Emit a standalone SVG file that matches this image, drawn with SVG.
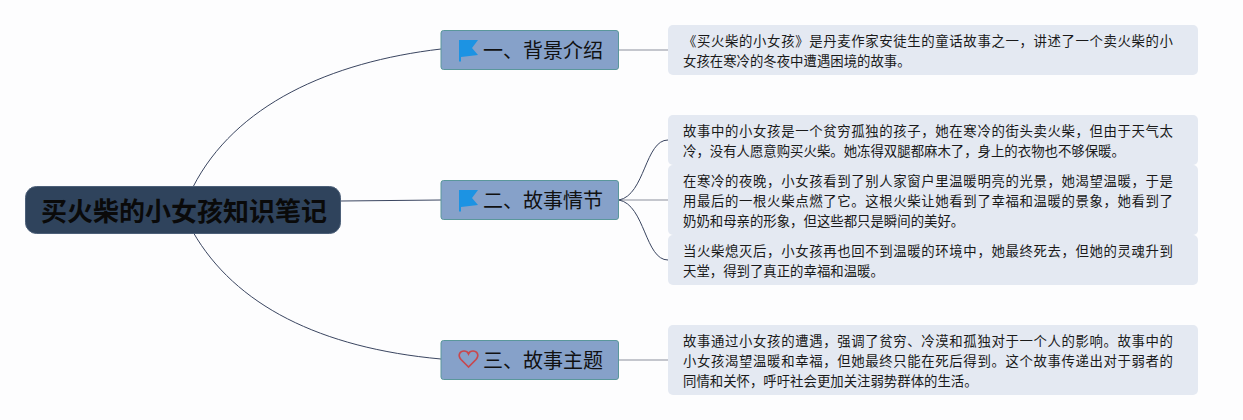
<svg xmlns="http://www.w3.org/2000/svg" width="1243" height="420" viewBox="0 0 1243 420">
<style>
.r{fill:#2f435c;stroke:#4c5f78;stroke-width:1}
.b{fill:#86a1c9;stroke:#5a979b;stroke-width:1}
.n{fill:#e4e9f2}
.c{fill:none;stroke:#3a4560;stroke-width:1}
.g{fill:none;stroke:#8c909c;stroke-width:1.2}
text{font-family:"Noto Sans CJK SC","Noto Sans",sans-serif;fill:#1a1a1a}
.rt{font-size:26px;font-weight:700;fill:#0a0a0a}
.bt{font-size:20px;fill:#111}
.nt{font-size:13.4px}
.flag{fill:#1c93e3}
</style>
<rect width="1243" height="420" fill="#fdfdfe"/>
<g id="connectors">
<path class="c" d="M193 187C235 105 330 62 441 49"/>
<path class="c" d="M341 201L441 200"/>
<path class="c" d="M193 232C235 305 320 348 441 359"/>
<path class="g" d="M619 50H668"/>
<path class="g" d="M619 200H668"/>
<path class="c" d="M619 200C645 195 645 140 668 140"/>
<path class="c" d="M619 200C645 205 645 260 668 260"/>
<path class="g" d="M619 360H668"/>
</g>
<g id="root"><rect class="r" x="25.500" y="186.500" width="315" height="47" rx="11"/><text class="rt" x="184" y="221" text-anchor="middle" textLength="286" lengthAdjust="spacingAndGlyphs">买火柴的小女孩知识笔记</text></g>
<g id="b1"><rect class="b" x="441" y="30.500" width="177.500" height="39" rx="2.500"/>
<path class="flag" d="M459 40H478L472 48L478 55L461 57V61.500H459Z"/><text class="bt" x="483" y="58">一、背景介绍</text></g>
<g id="b2"><rect class="b" x="441" y="180.500" width="177.500" height="39" rx="2.500"/>
<path class="flag" d="M459 190H478L472 198L478 205L461 207V211.500H459Z"/><text class="bt" x="483" y="208">二、故事情节</text></g>
<g id="b3"><rect class="b" x="441" y="340.500" width="177.500" height="39" rx="2.500"/>
<path d="M468.500 367L461 359.500C457 354.500 460.500 351 464 351C466.200 351 467.800 352.200 468.500 353.800C469.200 352.200 470.800 351 473 351C476.500 351 480 354.500 476 359.500Z" fill="none" stroke="#c8484e" stroke-width="1.700"/><text class="bt" x="483" y="368">三、故事主题</text></g>
<g id="n1"><rect class="n" x="668" y="25" width="530" height="50" rx="5"/>
<text class="nt" x="683" y="46" textLength="490">《买火柴的小女孩》是丹麦作家安徒生的童话故事之一，讲述了一个卖火柴的小</text>
<text class="nt" x="683" y="66">女孩在寒冷的冬夜中遭遇困境的故事。</text></g>
<g id="n2"><rect class="n" x="668" y="115" width="530" height="50" rx="5"/>
<text class="nt" x="683" y="136" textLength="490">故事中的小女孩是一个贫穷孤独的孩子，她在寒冷的街头卖火柴，但由于天气太</text>
<text class="nt" x="683" y="156">冷，没有人愿意购买火柴。她冻得双腿都麻木了，身上的衣物也不够保暖。</text></g>
<g id="n3"><rect class="n" x="668" y="165" width="530" height="70" rx="5"/>
<text class="nt" x="683" y="186" textLength="490">在寒冷的夜晚，小女孩看到了别人家窗户里温暖明亮的光景，她渴望温暖，于是</text>
<text class="nt" x="683" y="206" textLength="490">用最后的一根火柴点燃了它。这根火柴让她看到了幸福和温暖的景象，她看到了</text>
<text class="nt" x="683" y="226">奶奶和母亲的形象，但这些都只是瞬间的美好。</text></g>
<g id="n4"><rect class="n" x="668" y="235" width="530" height="50" rx="5"/>
<text class="nt" x="683" y="256" textLength="490">当火柴熄灭后，小女孩再也回不到温暖的环境中，她最终死去，但她的灵魂升到</text>
<text class="nt" x="683" y="276">天堂，得到了真正的幸福和温暖。</text></g>
<g id="n5"><rect class="n" x="668" y="325" width="530" height="70" rx="5"/>
<text class="nt" x="683" y="346" textLength="490">故事通过小女孩的遭遇，强调了贫穷、冷漠和孤独对于一个人的影响。故事中的</text>
<text class="nt" x="683" y="366" textLength="490">小女孩渴望温暖和幸福，但她最终只能在死后得到。这个故事传递出对于弱者的</text>
<text class="nt" x="683" y="386">同情和关怀，呼吁社会更加关注弱势群体的生活。</text></g>
</svg>
